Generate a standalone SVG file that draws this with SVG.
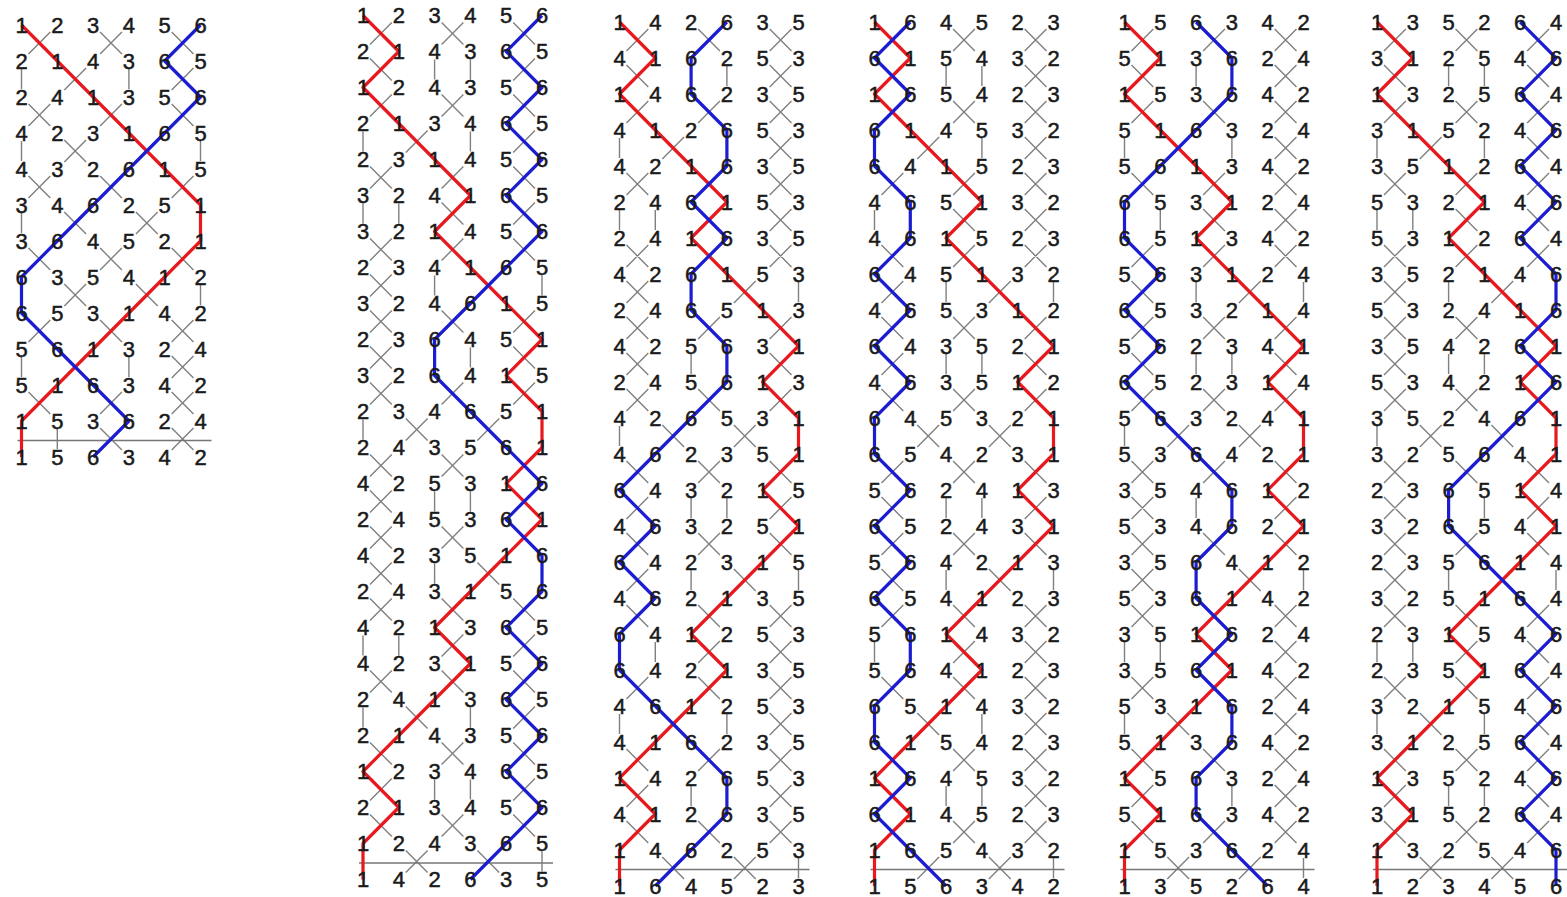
<svg xmlns="http://www.w3.org/2000/svg" xmlns:xlink="http://www.w3.org/1999/xlink" width="1567" height="897" viewBox="0 0 1567 897">
<style>
.g{fill:none;stroke:#808080;stroke-width:1.4}
.le{stroke:#767676;stroke-width:1.7}
.r{fill:none;stroke:#e8191e;stroke-width:3.2;stroke-linejoin:round}
.b{fill:none;stroke:#1c1cd2;stroke-width:3.2;stroke-linejoin:round}
text{font-family:"Liberation Sans",Arial,sans-serif;font-size:22px;fill:#1a1a1a;stroke:#1a1a1a;stroke-width:0.5;text-anchor:middle}
</style>
<defs>
<path id="px" class="g" d="M7 7L28.8 29M28.8 7L7 29M78.6 7L100.4 29M100.4 7L78.6 29M150.2 7L172 29M172 7L150.2 29"/>
<path id="p34" class="g" d="M7 7L28.8 29M28.8 7L7 29M71.6 8V28M107.4 8V28M150.2 7L172 29M172 7L150.2 29"/>
<path id="p14" class="g" d="M0 8V28M42.8 7L64.6 29M64.6 7L42.8 29M107.4 8V28M150.2 7L172 29M172 7L150.2 29"/>
<path id="p12" class="g" d="M0 8V28M35.8 8V28M78.6 7L100.4 29M100.4 7L78.6 29M150.2 7L172 29M172 7L150.2 29"/>
<path id="p36" class="g" d="M7 7L28.8 29M28.8 7L7 29M71.6 8V28M114.4 7L136.2 29M136.2 7L114.4 29M179 8V28"/>
<path id="p16" class="g" d="M0 8V28M42.8 7L64.6 29M64.6 7L42.8 29M114.4 7L136.2 29M136.2 7L114.4 29M179 8V28"/>
<polyline id="treble" class="r" points="0,0 35.8,36 0,72 35.8,108 71.6,144 107.4,180 71.6,216 107.4,252 143.2,288 179,324 143.2,360 179,396 179,432 143.2,468 179,504 143.2,540 107.4,576 71.6,612 107.4,648 71.6,684 35.8,720 0,756 35.8,792 0,828 0,864"/>
<g id="lead">
<use href="#px"/>
<use href="#p34" y="36"/>
<use href="#px" y="72"/>
<use href="#p14" y="108"/>
<use href="#px" y="144"/>
<use href="#p12" y="180"/>
<use href="#px" y="216"/>
<use href="#p36" y="252"/>
<use href="#px" y="288"/>
<use href="#p34" y="324"/>
<use href="#px" y="360"/>
<use href="#p16" y="396"/>
<use href="#px" y="432"/>
<use href="#p34" y="468"/>
<use href="#px" y="504"/>
<use href="#p36" y="540"/>
<use href="#px" y="576"/>
<use href="#p12" y="612"/>
<use href="#px" y="648"/>
<use href="#p14" y="684"/>
<use href="#px" y="720"/>
<use href="#p34" y="756"/>
<use href="#px" y="792"/>
<use href="#p16" y="828"/>
<line class="le" x1="-4" y1="847.5" x2="190" y2="847.5"/>
</g>
</defs>
<rect width="1567" height="897" fill="#fff"/>

<g id="panel1" transform="translate(21.5,25)">
<g id="panel1-connectors">
<use href="#px"/>
<use href="#p14" y="36"/>
<use href="#px" y="72"/>
<use href="#p16" y="108"/>
<use href="#px" y="144"/>
<use href="#p16" y="180"/>
<use href="#px" y="216"/>
<use href="#p16" y="252"/>
<use href="#px" y="288"/>
<use href="#p14" y="324"/>
<use href="#px" y="360"/>
<use href="#p12" y="396"/>
<line class="le" x1="-4" y1="415.5" x2="190" y2="415.5"/>
<polyline class="r" points="0,0 35.8,36 71.6,72 107.4,108 143.2,144 179,180 179,216 143.2,252 107.4,288 71.6,324 35.8,360 0,396 0,432"/>
<polyline class="b" points="179,0 143.2,36 179,72 143.2,108 107.4,144 71.6,180 35.8,216 0,252 0,288 35.8,324 71.6,360 107.4,396 71.6,432"/>
</g>
<g id="panel1-rows">
<text x="0 35.8 71.6 107.4 143.2 179" y="7.5">123456</text>
<text x="0 35.8 71.6 107.4 143.2 179" y="43.5">214365</text>
<text x="0 35.8 71.6 107.4 143.2 179" y="79.5">241356</text>
<text x="0 35.8 71.6 107.4 143.2 179" y="115.5">423165</text>
<text x="0 35.8 71.6 107.4 143.2 179" y="151.5">432615</text>
<text x="0 35.8 71.6 107.4 143.2 179" y="187.5">346251</text>
<text x="0 35.8 71.6 107.4 143.2 179" y="223.5">364521</text>
<text x="0 35.8 71.6 107.4 143.2 179" y="259.5">635412</text>
<text x="0 35.8 71.6 107.4 143.2 179" y="295.5">653142</text>
<text x="0 35.8 71.6 107.4 143.2 179" y="331.5">561324</text>
<text x="0 35.8 71.6 107.4 143.2 179" y="367.5">516342</text>
<text x="0 35.8 71.6 107.4 143.2 179" y="403.5">153624</text>
<text x="0 35.8 71.6 107.4 143.2 179" y="439.5">156342</text>
</g>
</g>

<g id="panel2" transform="translate(363,15.5)">
<g id="panel2-connectors">
<use href="#lead"/>
<use href="#treble"/>
<polyline class="b" points="179,0 143.2,36 179,72 143.2,108 179,144 143.2,180 179,216 143.2,252 107.4,288 71.6,324 71.6,360 107.4,396 143.2,432 179,468 143.2,504 179,540 179,576 143.2,612 179,648 143.2,684 179,720 143.2,756 179,792 143.2,828 107.4,864"/>
</g>
<g id="panel2-rows">
<text x="0 35.8 71.6 107.4 143.2 179" y="7.5">123456</text>
<text x="0 35.8 71.6 107.4 143.2 179" y="43.5">214365</text>
<text x="0 35.8 71.6 107.4 143.2 179" y="79.5">124356</text>
<text x="0 35.8 71.6 107.4 143.2 179" y="115.5">213465</text>
<text x="0 35.8 71.6 107.4 143.2 179" y="151.5">231456</text>
<text x="0 35.8 71.6 107.4 143.2 179" y="187.5">324165</text>
<text x="0 35.8 71.6 107.4 143.2 179" y="223.5">321456</text>
<text x="0 35.8 71.6 107.4 143.2 179" y="259.5">234165</text>
<text x="0 35.8 71.6 107.4 143.2 179" y="295.5">324615</text>
<text x="0 35.8 71.6 107.4 143.2 179" y="331.5">236451</text>
<text x="0 35.8 71.6 107.4 143.2 179" y="367.5">326415</text>
<text x="0 35.8 71.6 107.4 143.2 179" y="403.5">234651</text>
<text x="0 35.8 71.6 107.4 143.2 179" y="439.5">243561</text>
<text x="0 35.8 71.6 107.4 143.2 179" y="475.5">425316</text>
<text x="0 35.8 71.6 107.4 143.2 179" y="511.5">245361</text>
<text x="0 35.8 71.6 107.4 143.2 179" y="547.5">423516</text>
<text x="0 35.8 71.6 107.4 143.2 179" y="583.5">243156</text>
<text x="0 35.8 71.6 107.4 143.2 179" y="619.5">421365</text>
<text x="0 35.8 71.6 107.4 143.2 179" y="655.5">423156</text>
<text x="0 35.8 71.6 107.4 143.2 179" y="691.5">241365</text>
<text x="0 35.8 71.6 107.4 143.2 179" y="727.5">214356</text>
<text x="0 35.8 71.6 107.4 143.2 179" y="763.5">123465</text>
<text x="0 35.8 71.6 107.4 143.2 179" y="799.5">213456</text>
<text x="0 35.8 71.6 107.4 143.2 179" y="835.5">124365</text>
<text x="0 35.8 71.6 107.4 143.2 179" y="871.5">142635</text>
</g>
</g>

<g id="panel3" transform="translate(619.5,22)">
<g id="panel3-connectors">
<use href="#lead"/>
<use href="#treble"/>
<polyline class="b" points="107.4,0 71.6,36 71.6,72 107.4,108 107.4,144 71.6,180 107.4,216 71.6,252 71.6,288 107.4,324 107.4,360 71.6,396 35.8,432 0,468 35.8,504 0,540 35.8,576 0,612 0,648 35.8,684 71.6,720 107.4,756 107.4,792 71.6,828 35.8,864"/>
</g>
<g id="panel3-rows">
<text x="0 35.8 71.6 107.4 143.2 179" y="7.5">142635</text>
<text x="0 35.8 71.6 107.4 143.2 179" y="43.5">416253</text>
<text x="0 35.8 71.6 107.4 143.2 179" y="79.5">146235</text>
<text x="0 35.8 71.6 107.4 143.2 179" y="115.5">412653</text>
<text x="0 35.8 71.6 107.4 143.2 179" y="151.5">421635</text>
<text x="0 35.8 71.6 107.4 143.2 179" y="187.5">246153</text>
<text x="0 35.8 71.6 107.4 143.2 179" y="223.5">241635</text>
<text x="0 35.8 71.6 107.4 143.2 179" y="259.5">426153</text>
<text x="0 35.8 71.6 107.4 143.2 179" y="295.5">246513</text>
<text x="0 35.8 71.6 107.4 143.2 179" y="331.5">425631</text>
<text x="0 35.8 71.6 107.4 143.2 179" y="367.5">245613</text>
<text x="0 35.8 71.6 107.4 143.2 179" y="403.5">426531</text>
<text x="0 35.8 71.6 107.4 143.2 179" y="439.5">462351</text>
<text x="0 35.8 71.6 107.4 143.2 179" y="475.5">643215</text>
<text x="0 35.8 71.6 107.4 143.2 179" y="511.5">463251</text>
<text x="0 35.8 71.6 107.4 143.2 179" y="547.5">642315</text>
<text x="0 35.8 71.6 107.4 143.2 179" y="583.5">462135</text>
<text x="0 35.8 71.6 107.4 143.2 179" y="619.5">641253</text>
<text x="0 35.8 71.6 107.4 143.2 179" y="655.5">642135</text>
<text x="0 35.8 71.6 107.4 143.2 179" y="691.5">461253</text>
<text x="0 35.8 71.6 107.4 143.2 179" y="727.5">416235</text>
<text x="0 35.8 71.6 107.4 143.2 179" y="763.5">142653</text>
<text x="0 35.8 71.6 107.4 143.2 179" y="799.5">412635</text>
<text x="0 35.8 71.6 107.4 143.2 179" y="835.5">146253</text>
<text x="0 35.8 71.6 107.4 143.2 179" y="871.5">164523</text>
</g>
</g>

<g id="panel4" transform="translate(874.5,22)">
<g id="panel4-connectors">
<use href="#lead"/>
<use href="#treble"/>
<polyline class="b" points="35.8,0 0,36 35.8,72 0,108 0,144 35.8,180 35.8,216 0,252 35.8,288 0,324 35.8,360 0,396 0,432 35.8,468 0,504 35.8,540 0,576 35.8,612 35.8,648 0,684 0,720 35.8,756 0,792 35.8,828 71.6,864"/>
</g>
<g id="panel4-rows">
<text x="0 35.8 71.6 107.4 143.2 179" y="7.5">164523</text>
<text x="0 35.8 71.6 107.4 143.2 179" y="43.5">615432</text>
<text x="0 35.8 71.6 107.4 143.2 179" y="79.5">165423</text>
<text x="0 35.8 71.6 107.4 143.2 179" y="115.5">614532</text>
<text x="0 35.8 71.6 107.4 143.2 179" y="151.5">641523</text>
<text x="0 35.8 71.6 107.4 143.2 179" y="187.5">465132</text>
<text x="0 35.8 71.6 107.4 143.2 179" y="223.5">461523</text>
<text x="0 35.8 71.6 107.4 143.2 179" y="259.5">645132</text>
<text x="0 35.8 71.6 107.4 143.2 179" y="295.5">465312</text>
<text x="0 35.8 71.6 107.4 143.2 179" y="331.5">643521</text>
<text x="0 35.8 71.6 107.4 143.2 179" y="367.5">463512</text>
<text x="0 35.8 71.6 107.4 143.2 179" y="403.5">645321</text>
<text x="0 35.8 71.6 107.4 143.2 179" y="439.5">654231</text>
<text x="0 35.8 71.6 107.4 143.2 179" y="475.5">562413</text>
<text x="0 35.8 71.6 107.4 143.2 179" y="511.5">652431</text>
<text x="0 35.8 71.6 107.4 143.2 179" y="547.5">564213</text>
<text x="0 35.8 71.6 107.4 143.2 179" y="583.5">654123</text>
<text x="0 35.8 71.6 107.4 143.2 179" y="619.5">561432</text>
<text x="0 35.8 71.6 107.4 143.2 179" y="655.5">564123</text>
<text x="0 35.8 71.6 107.4 143.2 179" y="691.5">651432</text>
<text x="0 35.8 71.6 107.4 143.2 179" y="727.5">615423</text>
<text x="0 35.8 71.6 107.4 143.2 179" y="763.5">164532</text>
<text x="0 35.8 71.6 107.4 143.2 179" y="799.5">614523</text>
<text x="0 35.8 71.6 107.4 143.2 179" y="835.5">165432</text>
<text x="0 35.8 71.6 107.4 143.2 179" y="871.5">156342</text>
</g>
</g>

<g id="panel5" transform="translate(1124.5,22)">
<g id="panel5-connectors">
<use href="#lead"/>
<use href="#treble"/>
<polyline class="b" points="71.6,0 107.4,36 107.4,72 71.6,108 35.8,144 0,180 0,216 35.8,252 0,288 35.8,324 0,360 35.8,396 71.6,432 107.4,468 107.4,504 71.6,540 71.6,576 107.4,612 71.6,648 107.4,684 107.4,720 71.6,756 71.6,792 107.4,828 143.2,864"/>
</g>
<g id="panel5-rows">
<text x="0 35.8 71.6 107.4 143.2 179" y="7.5">156342</text>
<text x="0 35.8 71.6 107.4 143.2 179" y="43.5">513624</text>
<text x="0 35.8 71.6 107.4 143.2 179" y="79.5">153642</text>
<text x="0 35.8 71.6 107.4 143.2 179" y="115.5">516324</text>
<text x="0 35.8 71.6 107.4 143.2 179" y="151.5">561342</text>
<text x="0 35.8 71.6 107.4 143.2 179" y="187.5">653124</text>
<text x="0 35.8 71.6 107.4 143.2 179" y="223.5">651342</text>
<text x="0 35.8 71.6 107.4 143.2 179" y="259.5">563124</text>
<text x="0 35.8 71.6 107.4 143.2 179" y="295.5">653214</text>
<text x="0 35.8 71.6 107.4 143.2 179" y="331.5">562341</text>
<text x="0 35.8 71.6 107.4 143.2 179" y="367.5">652314</text>
<text x="0 35.8 71.6 107.4 143.2 179" y="403.5">563241</text>
<text x="0 35.8 71.6 107.4 143.2 179" y="439.5">536421</text>
<text x="0 35.8 71.6 107.4 143.2 179" y="475.5">354612</text>
<text x="0 35.8 71.6 107.4 143.2 179" y="511.5">534621</text>
<text x="0 35.8 71.6 107.4 143.2 179" y="547.5">356412</text>
<text x="0 35.8 71.6 107.4 143.2 179" y="583.5">536142</text>
<text x="0 35.8 71.6 107.4 143.2 179" y="619.5">351624</text>
<text x="0 35.8 71.6 107.4 143.2 179" y="655.5">356142</text>
<text x="0 35.8 71.6 107.4 143.2 179" y="691.5">531624</text>
<text x="0 35.8 71.6 107.4 143.2 179" y="727.5">513642</text>
<text x="0 35.8 71.6 107.4 143.2 179" y="763.5">156324</text>
<text x="0 35.8 71.6 107.4 143.2 179" y="799.5">516342</text>
<text x="0 35.8 71.6 107.4 143.2 179" y="835.5">153624</text>
<text x="0 35.8 71.6 107.4 143.2 179" y="871.5">135264</text>
</g>
</g>

<g id="panel6" transform="translate(1377,22)">
<g id="panel6-connectors">
<use href="#lead"/>
<use href="#treble"/>
<polyline class="b" points="143.2,0 179,36 143.2,72 179,108 143.2,144 179,180 143.2,216 179,252 179,288 143.2,324 179,360 143.2,396 107.4,432 71.6,468 71.6,504 107.4,540 143.2,576 179,612 143.2,648 179,684 143.2,720 179,756 143.2,792 179,828 179,864"/>
</g>
<g id="panel6-rows">
<text x="0 35.8 71.6 107.4 143.2 179" y="7.5">135264</text>
<text x="0 35.8 71.6 107.4 143.2 179" y="43.5">312546</text>
<text x="0 35.8 71.6 107.4 143.2 179" y="79.5">132564</text>
<text x="0 35.8 71.6 107.4 143.2 179" y="115.5">315246</text>
<text x="0 35.8 71.6 107.4 143.2 179" y="151.5">351264</text>
<text x="0 35.8 71.6 107.4 143.2 179" y="187.5">532146</text>
<text x="0 35.8 71.6 107.4 143.2 179" y="223.5">531264</text>
<text x="0 35.8 71.6 107.4 143.2 179" y="259.5">352146</text>
<text x="0 35.8 71.6 107.4 143.2 179" y="295.5">532416</text>
<text x="0 35.8 71.6 107.4 143.2 179" y="331.5">354261</text>
<text x="0 35.8 71.6 107.4 143.2 179" y="367.5">534216</text>
<text x="0 35.8 71.6 107.4 143.2 179" y="403.5">352461</text>
<text x="0 35.8 71.6 107.4 143.2 179" y="439.5">325641</text>
<text x="0 35.8 71.6 107.4 143.2 179" y="475.5">236514</text>
<text x="0 35.8 71.6 107.4 143.2 179" y="511.5">326541</text>
<text x="0 35.8 71.6 107.4 143.2 179" y="547.5">235614</text>
<text x="0 35.8 71.6 107.4 143.2 179" y="583.5">325164</text>
<text x="0 35.8 71.6 107.4 143.2 179" y="619.5">231546</text>
<text x="0 35.8 71.6 107.4 143.2 179" y="655.5">235164</text>
<text x="0 35.8 71.6 107.4 143.2 179" y="691.5">321546</text>
<text x="0 35.8 71.6 107.4 143.2 179" y="727.5">312564</text>
<text x="0 35.8 71.6 107.4 143.2 179" y="763.5">135246</text>
<text x="0 35.8 71.6 107.4 143.2 179" y="799.5">315264</text>
<text x="0 35.8 71.6 107.4 143.2 179" y="835.5">132546</text>
<text x="0 35.8 71.6 107.4 143.2 179" y="871.5">123456</text>
</g>
</g>
</svg>
